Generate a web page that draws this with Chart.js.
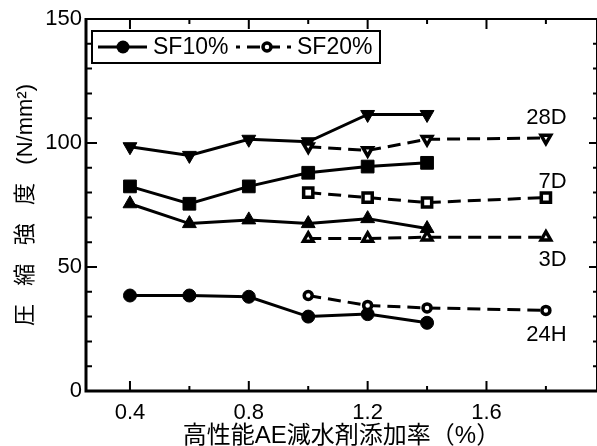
<!DOCTYPE html>
<html>
<head>
<meta charset="utf-8">
<script src="https://cdn.jsdelivr.net/npm/chart.js@4/dist/chart.umd.min.js"></script>
<style>
  html, body { margin: 0; padding: 0; background: #fff; }
  canvas { display: block; }
</style>
</head>
<body>
<canvas id="strengthChart" width="597" height="446"></canvas>
<script>
// dosage (%) for each mix series
const xSF10 = [0.4, 0.6, 0.8, 1.0, 1.2, 1.4];
const xSF20 = [1.0, 1.2, 1.4, 1.8];

// compressive strength (N/mm2) per curing age
const sf10_24H = [38.5, 38.5, 38, 30, 31, 27.5];
const sf10_3D  = [75.5, 67.5, 69, 67.5, 69.5, 65.5];
const sf10_7D  = [82.5, 75.5, 82.5, 88, 90.5, 92];
const sf10_28D = [98.5, 95, 101.5, 100.5, 111.5, 111.5];

const sf20_24H = [38.5, 34.5, 33.5, 32.5];
const sf20_3D  = [61.5, 61.5, 62, 62];
const sf20_7D  = [80, 78, 76, 78];
const sf20_28D = [98.5, 97, 101.5, 102];

const ages = ['24H', '3D', '7D', '28D'];
const seriesNames = ['SF10%', 'SF20%'];

// axis ticks
const xTicks = [0.4, 0.6, 0.8, 1.0, 1.2, 1.4, 1.6, 1.8];
const xLabeled = [0.4, 0.8, 1.2, 1.6];
const yTicks = [0, 10, 20, 30, 40, 50, 60, 70, 80, 90, 100, 110, 120, 130, 140, 150];
const yLabeled = [0, 50, 100, 150];

const FONT = "'Liberation Sans', 'Noto Sans CJK JP', sans-serif";
const near = (list, v) => list.some(l => Math.abs(l - v) < 1e-6);

const styles = {
  '24H': { pointStyle: 'circle', rotation: 0, r10: 6.5, r20: 4 },
  '3D':  { pointStyle: 'triangle', rotation: 0, r10: 8, r20: 5.5 },
  '7D':  { pointStyle: 'rect', rotation: 0, r10: 9, r20: 6.5 },
  '28D': { pointStyle: 'triangle', rotation: 180, r10: 8, r20: 5.5 }
};

function mkPoints(xs, ys) {
  return xs.map((x, i) => ({ x: x, y: ys[i] }));
}

function mkSet(series, age, xs, ys) {
  const st = styles[age];
  const open = series === 'SF20%';
  return {
    label: series + ' ' + age,
    data: mkPoints(xs, ys),
    borderColor: '#000',
    borderWidth: 3,
    borderDash: open ? [13, 7] : [],
    pointStyle: st.pointStyle,
    pointRotation: st.rotation,
    pointRadius: open ? st.r20 : st.r10,
    pointBorderWidth: open ? 3.5 : 1,
    pointBorderColor: '#000',
    pointBackgroundColor: open ? '#fff' : '#000',
    fill: false,
    tension: 0
  };
}

const datasets = [
  mkSet('SF20%', '24H', xSF20, sf20_24H),
  mkSet('SF20%', '3D', xSF20, sf20_3D),
  mkSet('SF20%', '7D', xSF20, sf20_7D),
  mkSet('SF20%', '28D', xSF20, sf20_28D),
  mkSet('SF10%', '24H', xSF10, sf10_24H),
  mkSet('SF10%', '3D', xSF10, sf10_3D),
  mkSet('SF10%', '7D', xSF10, sf10_7D),
  mkSet('SF10%', '28D', xSF10, sf10_28D)
];

// frame + inward tick marks on all four sides
const framePlugin = {
  id: 'frame',
  afterDatasetsDraw(chart) {
    const { ctx, chartArea: a, scales: { x, y } } = chart;
    ctx.save();
    ctx.strokeStyle = '#000';
    ctx.lineCap = 'butt';

    ctx.lineWidth = 2;
    xTicks.forEach(v => {
      const px = x.getPixelForValue(v);
      const len = near(xLabeled, v) ? 10 : 5;
      ctx.beginPath();
      ctx.moveTo(px, a.bottom); ctx.lineTo(px, a.bottom - len);
      ctx.moveTo(px, a.top); ctx.lineTo(px, a.top + len);
      ctx.stroke();
    });
    yTicks.forEach(v => {
      const py = y.getPixelForValue(v);
      const major = near(yLabeled, v);
      ctx.beginPath();
      ctx.moveTo(a.left, py); ctx.lineTo(a.left + (major ? 11 : 6), py);
      ctx.moveTo(a.right, py); ctx.lineTo(a.right - (major ? 8 : 4), py);
      ctx.stroke();
    });

    ctx.lineWidth = 2;
    ctx.beginPath();
    ctx.moveTo(a.left, a.top); ctx.lineTo(a.right, a.top);
    ctx.moveTo(a.right, a.top); ctx.lineTo(a.right, a.bottom);
    ctx.stroke();
    ctx.lineWidth = 3;
    ctx.beginPath();
    ctx.moveTo(a.left, a.top - 1); ctx.lineTo(a.left, a.bottom);
    ctx.lineTo(a.right, a.bottom);
    ctx.stroke();
    ctx.restore();
  }
};

// age names at the end of each curve
const ageLabelPos = { '28D': [1.87, 110], '7D': [1.87, 84.5], '3D': [1.87, 53], '24H': [1.87, 22.5] };

const ageLabelPlugin = {
  id: 'ageLabels',
  afterDatasetsDraw(chart) {
    const { ctx, scales: { x, y } } = chart;
    ctx.save();
    ctx.fillStyle = '#000';
    ctx.font = '22px ' + FONT;
    ctx.textAlign = 'right';
    ctx.textBaseline = 'middle';
    ages.forEach(age => {
      const p = ageLabelPos[age];
      ctx.fillText(age, x.getPixelForValue(p[0]), y.getPixelForValue(p[1]));
    });
    ctx.restore();
  }
};

// boxed legend in the upper left of the plot
const legendBox = {
  id: 'legendBox',
  afterDraw(chart) {
    const { ctx, chartArea: a } = chart;
    const bx = a.left + 6, by = a.top + 12, bw = 288, bh = 32;
    const cy = by + bh / 2;
    ctx.save();
    ctx.fillStyle = '#fff';
    ctx.fillRect(bx, by, bw, bh);
    ctx.strokeStyle = '#000';
    ctx.lineWidth = 2;
    ctx.strokeRect(bx, by, bw, bh);

    // SF10%
    ctx.lineWidth = 3;
    ctx.beginPath();
    ctx.moveTo(bx + 6, cy); ctx.lineTo(bx + 55, cy);
    ctx.stroke();
    ctx.beginPath();
    ctx.arc(bx + 31, cy, 6.5, 0, Math.PI * 2);
    ctx.fillStyle = '#000';
    ctx.fill();

    // SF20%
    ctx.setLineDash([13, 7]);
    ctx.lineDashOffset = 9;
    ctx.beginPath();
    ctx.moveTo(bx + 144, cy); ctx.lineTo(bx + 199, cy);
    ctx.stroke();
    ctx.setLineDash([]);
    ctx.beginPath();
    ctx.arc(bx + 175, cy, 4, 0, Math.PI * 2);
    ctx.fillStyle = '#fff';
    ctx.fill();
    ctx.lineWidth = 3.5;
    ctx.stroke();

    ctx.fillStyle = '#000';
    ctx.font = '23px ' + FONT;
    ctx.textAlign = 'left';
    ctx.textBaseline = 'middle';
    ctx.fillText(seriesNames[0], bx + 61, cy + 1);
    ctx.fillText(seriesNames[1], bx + 205, cy + 1);
    ctx.restore();
  }
};

const ctx = document.getElementById('strengthChart').getContext('2d');
const strengthChart = new Chart(ctx, {
  type: 'line',
  data: { datasets: datasets },
  plugins: [framePlugin, ageLabelPlugin, legendBox],
  options: {
    responsive: false,
    animation: false,
    layout: { autoPadding: false, padding: { top: 19, right: 0, bottom: 0, left: 0 } },
    plugins: { legend: { display: false }, tooltip: { enabled: false } },
    scales: {
      x: {
        type: 'linear',
        min: 0.252,
        max: 1.972,
        afterBuildTicks: s => { s.ticks = xTicks.map(v => ({ value: v })); },
        afterFit: s => { s.height = 55; s.paddingLeft = 0; s.paddingRight = 0; },
        grid: { display: false, drawTicks: false },
        border: { display: false },
        ticks: {
          autoSkip: false,
          maxRotation: 0,
          padding: 9,
          color: '#000',
          font: { family: FONT, size: 22 },
          callback: v => near(xLabeled, v) ? v.toFixed(1) : ''
        },
        title: {
          display: true,
          text: '高性能AE減水剤添加率（%）',
          color: '#000',
          font: { family: FONT, size: 24, lineHeight: 1 },
          padding: { top: 0, bottom: -2 }
        }
      },
      y: {
        min: 0,
        max: 150,
        afterBuildTicks: s => { s.ticks = yTicks.map(v => ({ value: v })); },
        afterFit: s => { s.width = 86; s.paddingTop = 0; s.paddingBottom = 0; },
        grid: { display: false, drawTicks: false },
        border: { display: false },
        ticks: {
          autoSkip: false,
          padding: 4,
          color: '#000',
          font: { family: FONT, size: 22 },
          callback: v => near(yLabeled, v) ? String(v) : ''
        },
        title: {
          display: true,
          text: '圧   縮   強   度   (N/mm²)',
          color: '#000',
          font: { family: FONT, size: 22, lineHeight: 1.2 },
          padding: { top: 13, bottom: 0 }
        }
      }
    }
  }
});
</script>
</body>
</html>
